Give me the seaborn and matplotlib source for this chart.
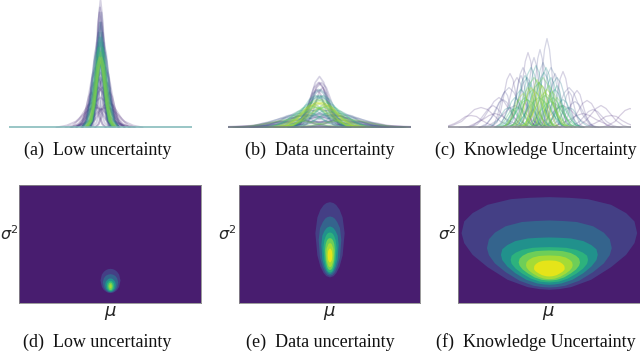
import matplotlib
matplotlib.use("Agg")
import matplotlib.pyplot as plt
import pandas as pd
import seaborn as sns

# ---------- CURVES (top row) ----------
# every curve: centre and spread in pixels, heights at the shared offsets
OFFSETS = [-3, -2.2, -1.5, -1, -0.5, 0, 0.5, 1, 1.5, 2.2, 3]

a_mu = [-1, 1, 0, -0.5, 0.5, -1.5, 1.5, 0, -1, 1, 0, 0, -1, 1, -2, 2, -3, 3, -5, 5, -7, 7, -9, 9, -2, 2, -5, 6, 0, 0,
        -4, 4, -2, 2, -6, 6, 0, -1, 1, -3, 3, 0, -8, 8, -1.5, 1.5, -3, 3, 0, -0.5]
a_spread = [4.5, 4.6, 4.8, 4.3, 4.3, 4.6, 4.6, 4.2, 4, 4, 3.8, 3.2, 3.4, 3.6, 4, 4, 5, 5, 6, 6, 4, 4, 5, 5, 9, 9, 13, 12, 8, 7,
            4.5, 4.5, 5.5, 5.5, 4.5, 4.5, 6, 3, 3, 7, 7, 10, 9, 9, 5.2, 5.2, 4.8, 4.8, 3.6, 3]
a_hue = [.85, .85, .8, .75, .75, .7, .7, .6, .55, .55, .5, .15, .15, .15, .2, .2, .2, .2, .15, .15, .15, .15, .1, .1, .1, .1, .1, .1, .2, .2,
         .25, .25, .3, .3, .2, .2, .25, .2, .2, .15, .15, .1, .1, .1, .65, .65, .45, .45, .35, .15]
a_y = [
    [1, 6, 23, 42, 62, 70, 62, 42, 23, 6, 1], [1, 6, 23, 42, 62, 70, 62, 42, 23, 6, 1],
    [1, 6, 21, 39, 57, 65, 57, 39, 21, 6, 1], [1, 7, 24, 46, 66, 75, 66, 46, 24, 7, 1],
    [1, 7, 24, 46, 66, 75, 66, 46, 24, 7, 1], [1, 7, 26, 49, 71, 80, 71, 49, 26, 7, 1],
    [1, 7, 26, 49, 71, 80, 71, 49, 26, 7, 1], [1, 8, 28, 52, 75, 85, 75, 52, 28, 8, 1],
    [1, 8, 29, 55, 79, 90, 79, 55, 29, 8, 1], [1, 8, 29, 55, 79, 90, 79, 55, 29, 8, 1],
    [1, 8, 31, 58, 84, 95, 84, 58, 31, 8, 1], [1, 11, 41, 77, 112, 127, 112, 77, 41, 11, 1],
    [1, 10, 37, 70, 101, 115, 101, 70, 37, 10, 1], [1, 9, 34, 64, 93, 105, 93, 64, 34, 9, 1],
    [1, 8, 31, 58, 84, 95, 84, 58, 31, 8, 1], [1, 8, 31, 58, 84, 95, 84, 58, 31, 8, 1],
    [1, 8, 28, 52, 75, 85, 75, 52, 28, 8, 1], [1, 8, 28, 52, 75, 85, 75, 52, 28, 8, 1],
    [1, 5, 20, 36, 53, 60, 53, 36, 20, 5, 1], [1, 5, 20, 36, 53, 60, 53, 36, 20, 5, 1],
    [0, 4, 15, 27, 40, 45, 40, 27, 15, 4, 0], [0, 4, 15, 27, 40, 45, 40, 27, 15, 4, 0],
    [0, 3, 11, 21, 31, 35, 31, 21, 11, 3, 0], [0, 3, 11, 21, 31, 35, 31, 21, 11, 3, 0],
    [0, 4, 13, 24, 35, 40, 35, 24, 13, 4, 0], [0, 4, 13, 24, 35, 40, 35, 24, 13, 4, 0],
    [0, 2, 6, 12, 18, 20, 18, 12, 6, 2, 0], [0, 2, 6, 12, 18, 20, 18, 12, 6, 2, 0],
    [1, 5, 18, 33, 49, 55, 49, 33, 18, 5, 1], [1, 4, 16, 30, 44, 50, 44, 30, 16, 4, 1],
    [1, 7, 24, 46, 66, 75, 66, 46, 24, 7, 1], [1, 7, 24, 46, 66, 75, 66, 46, 24, 7, 1],
    [1, 6, 23, 42, 62, 70, 62, 42, 23, 6, 1], [1, 6, 23, 42, 62, 70, 62, 42, 23, 6, 1],
    [1, 5, 18, 33, 49, 55, 49, 33, 18, 5, 1], [1, 5, 18, 33, 49, 55, 49, 33, 18, 5, 1],
    [1, 6, 21, 39, 57, 65, 57, 39, 21, 6, 1], [1, 9, 34, 64, 93, 105, 93, 64, 34, 9, 1],
    [1, 10, 37, 70, 101, 115, 101, 70, 37, 10, 1], [1, 4, 16, 30, 44, 50, 44, 30, 16, 4, 1],
    [1, 4, 16, 30, 44, 50, 44, 30, 16, 4, 1], [0, 3, 10, 18, 26, 30, 26, 18, 10, 3, 0],
    [0, 2, 8, 15, 22, 25, 22, 15, 8, 2, 0], [0, 2, 8, 15, 22, 25, 22, 15, 8, 2, 0],
    [1, 6, 22, 41, 60, 68, 60, 41, 22, 6, 1], [1, 6, 22, 41, 60, 68, 60, 41, 22, 6, 1],
    [1, 7, 26, 49, 71, 80, 71, 49, 26, 7, 1], [1, 7, 26, 49, 71, 80, 71, 49, 26, 7, 1],
    [1, 9, 34, 64, 93, 105, 93, 64, 34, 9, 1], [1, 11, 39, 73, 106, 120, 106, 73, 39, 11, 1],
]

b_mu = [0, -3, 3, -6, 6, -2, 2, -9, 9, 0, -4, 4, -1, 1, 0, -1, 2, -12, 12, -20, 20, -30, 30, -5, 5, 0, -40, 42,
        -4, 4, -14, 14, -8, 8, -2, 2, -18, 18, -26, 26, 0, 3, -3, 0, -10, 10, -20, 20, 0, -28, 28]
b_spread = [15, 14, 14, 15, 15, 13, 13, 16, 16, 12, 12, 12, 10, 10, 8.5, 9, 9.5, 19, 19, 22, 22, 18, 18, 27, 27, 28, 17, 17,
            16, 16, 15, 15, 12, 12, 10, 10, 12, 12, 14, 14, 7.5, 7, 7.5, 22, 24, 24, 30, 30, 34, 20, 20]
b_hue = [.9, .9, .9, .85, .85, .8, .8, .7, .7, .6, .55, .55, .35, .35, .15, .15, .15, .4, .4, .3, .3, .2, .2, .2, .2, .15, .1, .1,
         .75, .75, .6, .6, .5, .5, .3, .3, .35, .35, .15, .15, .1, .1, .1, .2, .15, .15, .12, .12, .1, .8, .8]
b_y = [
    [0, 2, 8, 15, 22, 25, 22, 15, 8, 2, 0], [0, 2, 8, 15, 22, 25, 22, 15, 8, 2, 0],
    [0, 2, 8, 15, 22, 25, 22, 15, 8, 2, 0], [0, 2, 7, 13, 19, 22, 19, 13, 7, 2, 0],
    [0, 2, 7, 13, 19, 22, 19, 13, 7, 2, 0], [0, 2, 9, 17, 25, 28, 25, 17, 9, 2, 0],
    [0, 2, 9, 17, 25, 28, 25, 17, 9, 2, 0], [0, 2, 7, 13, 19, 22, 19, 13, 7, 2, 0],
    [0, 2, 7, 13, 19, 22, 19, 13, 7, 2, 0], [0, 3, 10, 19, 28, 32, 28, 19, 10, 3, 0],
    [0, 3, 10, 19, 28, 32, 28, 19, 10, 3, 0], [0, 3, 10, 19, 28, 32, 28, 19, 10, 3, 0],
    [0, 3, 12, 23, 34, 38, 34, 23, 12, 3, 0], [0, 3, 12, 23, 34, 38, 34, 23, 12, 3, 0],
    [1, 5, 17, 31, 45, 51, 45, 31, 17, 5, 1], [0, 4, 15, 27, 40, 45, 40, 27, 15, 4, 0],
    [0, 4, 15, 27, 40, 45, 40, 27, 15, 4, 0], [0, 2, 6, 11, 16, 18, 16, 11, 6, 2, 0],
    [0, 2, 6, 11, 16, 18, 16, 11, 6, 2, 0], [0, 1, 5, 8, 12, 14, 12, 8, 5, 1, 0],
    [0, 1, 5, 8, 12, 14, 12, 8, 5, 1, 0], [0, 1, 3, 6, 9, 10, 9, 6, 3, 1, 0],
    [0, 1, 3, 6, 9, 10, 9, 6, 3, 1, 0], [0, 1, 5, 8, 12, 14, 12, 8, 5, 1, 0],
    [0, 1, 5, 8, 12, 14, 12, 8, 5, 1, 0], [0, 1, 3, 6, 9, 10, 9, 6, 3, 1, 0],
    [0, 1, 2, 4, 5, 6, 5, 4, 2, 1, 0], [0, 1, 2, 4, 5, 6, 5, 4, 2, 1, 0],
    [0, 2, 6, 12, 18, 20, 18, 12, 6, 2, 0], [0, 2, 6, 12, 18, 20, 18, 12, 6, 2, 0],
    [0, 1, 5, 10, 14, 16, 14, 10, 5, 1, 0], [0, 1, 5, 10, 14, 16, 14, 10, 5, 1, 0],
    [0, 2, 8, 15, 22, 25, 22, 15, 8, 2, 0], [0, 2, 8, 15, 22, 25, 22, 15, 8, 2, 0],
    [0, 3, 10, 19, 28, 32, 28, 19, 10, 3, 0], [0, 3, 10, 19, 28, 32, 28, 19, 10, 3, 0],
    [0, 1, 4, 7, 11, 12, 11, 7, 4, 1, 0], [0, 1, 4, 7, 11, 12, 11, 7, 4, 1, 0],
    [0, 1, 4, 7, 11, 12, 11, 7, 4, 1, 0], [0, 1, 4, 7, 11, 12, 11, 7, 4, 1, 0],
    [0, 4, 15, 27, 40, 45, 40, 27, 15, 4, 0], [0, 4, 13, 24, 35, 40, 35, 24, 13, 4, 0],
    [0, 3, 12, 23, 34, 38, 34, 23, 12, 3, 0], [0, 2, 6, 11, 16, 18, 16, 11, 6, 2, 0],
    [0, 1, 4, 7, 11, 12, 11, 7, 4, 1, 0], [0, 1, 4, 7, 11, 12, 11, 7, 4, 1, 0],
    [0, 1, 2, 4, 6, 7, 6, 4, 2, 1, 0], [0, 1, 2, 4, 6, 7, 6, 4, 2, 1, 0],
    [0, 1, 2, 4, 5, 6, 5, 4, 2, 1, 0], [0, 1, 3, 5, 7, 8, 7, 5, 3, 1, 0],
    [0, 1, 3, 5, 7, 8, 7, 5, 3, 1, 0],
]

c_mu = [8, -11, 1, -29, 24, 38, 48, -22, -16, -5, 4, 12, -40, -58, 62, 91, -30, 30, 18, -12,
        -8, 5, -18, 16, 0, -5, 4, -11, 10, 0, -3, 6, -14, 14, -22, 22, -24, 24, -44, 44, -14, 14,
        -20, -16, -8, -2, 3, 8, 13, 18, 24, -26, -6, 6, 0, -12, 12, -3, 5,
        -24, 24, -14, 12, -3, 7, -30, 30, 18, -10,
        -36, 36, -46, 54, -68, 72, -18, 16, 30, -34, 0, -6, 6, -10, 10]
c_spread = [5, 5.5, 4.5, 6, 5.5, 6, 9, 7, 6, 5, 6, 7, 10, 13, 10, 10, 10, 9, 8, 8,
            7, 7, 7, 7, 9, 8, 8, 6, 6, 6, 7, 9, 8, 8, 7, 7, 12, 12, 12, 13, 4, 4,
            6, 7, 6, 5, 6, 7, 6, 6, 6, 6, 9, 10, 11, 10, 11, 4, 4,
            7, 7, 6, 6, 6, 6, 8, 8, 5, 4.5,
            8, 8, 9, 9, 11, 11, 5, 5, 5, 5, 3, 3.5, 3.5, 3.5, 3.5]
c_hue = [.2, .15, .2, .15, .15, .15, .12, .15, .2, .2, .3, .3, .15, .12, .12, .1, .2, .2, .4, .4,
         .5, .5, .5, .55, .6, .75, .75, .8, .8, .85, .85, .85, .7, .7, .6, .6, .15, .15, .1, .1, .15, .15,
         .8, .85, .9, .85, .9, .85, .8, .8, .7, .7, .75, .75, .7, .7, .7, .8, .8,
         .5, .5, .5, .5, .5, .5, .45, .45, .55, .5,
         .2, .2, .15, .15, .1, .1, .2, .2, .2, .2, .1, .1, .1, .15, .15]
c_y = [
    [1, 8, 29, 54, 78, 89, 78, 54, 29, 8, 1], [1, 7, 24, 46, 66, 75, 66, 46, 24, 7, 1],
    [1, 7, 25, 47, 69, 78, 69, 47, 25, 7, 1], [1, 5, 18, 33, 48, 54, 48, 33, 18, 5, 1],
    [1, 5, 18, 34, 49, 56, 49, 34, 18, 5, 1], [0, 3, 12, 22, 33, 37, 33, 22, 12, 3, 0],
    [0, 2, 9, 16, 24, 27, 24, 16, 9, 2, 0], [1, 4, 16, 30, 44, 50, 44, 30, 16, 4, 1],
    [1, 5, 20, 36, 53, 60, 53, 36, 20, 5, 1], [1, 6, 23, 42, 62, 70, 62, 42, 23, 6, 1],
    [1, 6, 21, 39, 57, 65, 57, 39, 21, 6, 1], [1, 5, 20, 36, 53, 60, 53, 36, 20, 5, 1],
    [0, 3, 10, 18, 26, 30, 26, 18, 10, 3, 0], [0, 2, 6, 12, 18, 20, 18, 12, 6, 2, 0],
    [0, 2, 7, 13, 19, 22, 19, 13, 7, 2, 0], [0, 2, 6, 12, 17, 19, 17, 12, 6, 2, 0],
    [0, 4, 13, 24, 35, 40, 35, 24, 13, 4, 0], [0, 4, 13, 24, 35, 40, 35, 24, 13, 4, 0],
    [1, 4, 16, 30, 44, 50, 44, 30, 16, 4, 1], [1, 4, 16, 30, 44, 50, 44, 30, 16, 4, 1],
    [1, 5, 20, 36, 53, 60, 53, 36, 20, 5, 1], [1, 5, 18, 33, 49, 55, 49, 33, 18, 5, 1],
    [0, 3, 12, 23, 34, 38, 34, 23, 12, 3, 0], [0, 3, 12, 23, 34, 38, 34, 23, 12, 3, 0],
    [0, 4, 15, 27, 40, 45, 40, 27, 15, 4, 0], [1, 4, 16, 30, 44, 50, 44, 30, 16, 4, 1],
    [1, 4, 16, 30, 44, 50, 44, 30, 16, 4, 1], [0, 4, 13, 24, 35, 40, 35, 24, 13, 4, 0],
    [0, 4, 14, 25, 37, 42, 37, 25, 14, 4, 0], [0, 4, 15, 27, 40, 45, 40, 27, 15, 4, 0],
    [0, 3, 11, 21, 31, 35, 31, 21, 11, 3, 0], [0, 3, 11, 21, 31, 35, 31, 21, 11, 3, 0],
    [0, 3, 10, 18, 26, 30, 26, 18, 10, 3, 0], [0, 3, 10, 18, 26, 30, 26, 18, 10, 3, 0],
    [0, 2, 6, 12, 18, 20, 18, 12, 6, 2, 0], [0, 2, 7, 13, 19, 22, 19, 13, 7, 2, 0],
    [0, 2, 7, 13, 19, 22, 19, 13, 7, 2, 0], [0, 2, 7, 13, 19, 22, 19, 13, 7, 2, 0],
    [0, 1, 5, 8, 12, 14, 12, 8, 5, 1, 0], [0, 1, 5, 8, 12, 14, 12, 8, 5, 1, 0],
    [0, 2, 8, 15, 22, 25, 22, 15, 8, 2, 0], [0, 2, 8, 15, 22, 25, 22, 15, 8, 2, 0],
    [0, 2, 9, 17, 25, 28, 25, 17, 9, 2, 0], [0, 3, 11, 21, 30, 34, 30, 21, 11, 3, 0],
    [0, 4, 13, 24, 35, 40, 35, 24, 13, 4, 0], [1, 4, 16, 29, 42, 48, 42, 29, 16, 4, 1],
    [0, 4, 14, 25, 37, 42, 37, 25, 14, 4, 0], [0, 3, 12, 23, 34, 38, 34, 23, 12, 3, 0],
    [0, 3, 12, 22, 32, 36, 32, 22, 12, 3, 0], [0, 3, 10, 18, 26, 30, 26, 18, 10, 3, 0],
    [0, 2, 7, 13, 19, 22, 19, 13, 7, 2, 0], [0, 2, 6, 11, 16, 18, 16, 11, 6, 2, 0],
    [0, 3, 12, 23, 34, 38, 34, 23, 12, 3, 0], [0, 3, 10, 19, 28, 32, 28, 19, 10, 3, 0],
    [0, 3, 10, 18, 26, 30, 26, 18, 10, 3, 0], [0, 2, 9, 17, 25, 28, 25, 17, 9, 2, 0],
    [0, 2, 8, 16, 23, 26, 23, 16, 8, 2, 0], [0, 3, 10, 18, 26, 30, 26, 18, 10, 3, 0],
    [0, 2, 8, 16, 23, 26, 23, 16, 8, 2, 0], [0, 3, 10, 18, 26, 30, 26, 18, 10, 3, 0],
    [0, 2, 9, 17, 25, 28, 25, 17, 9, 2, 0], [1, 5, 17, 32, 46, 52, 46, 32, 17, 5, 1],
    [1, 4, 16, 30, 44, 50, 44, 30, 16, 4, 1], [1, 6, 20, 38, 55, 62, 55, 38, 20, 6, 1],
    [1, 5, 20, 36, 53, 60, 53, 36, 20, 5, 1], [0, 2, 6, 12, 18, 20, 18, 12, 6, 2, 0],
    [0, 2, 6, 12, 18, 20, 18, 12, 6, 2, 0], [0, 4, 14, 25, 37, 42, 37, 25, 14, 4, 0],
    [0, 4, 15, 27, 40, 45, 40, 27, 15, 4, 0], [0, 2, 9, 17, 25, 28, 25, 17, 9, 2, 0],
    [0, 2, 8, 16, 23, 26, 23, 16, 8, 2, 0], [0, 2, 7, 13, 19, 22, 19, 13, 7, 2, 0],
    [0, 2, 6, 11, 16, 18, 16, 11, 6, 2, 0], [0, 1, 4, 7, 11, 12, 11, 7, 4, 1, 0],
    [0, 1, 4, 7, 11, 12, 11, 7, 4, 1, 0], [1, 5, 17, 32, 46, 52, 46, 32, 17, 5, 1],
    [1, 5, 18, 33, 48, 54, 48, 33, 18, 5, 1], [0, 3, 12, 22, 32, 36, 32, 22, 12, 3, 0],
    [0, 3, 12, 22, 32, 36, 32, 22, 12, 3, 0], [0, 1, 5, 10, 14, 16, 14, 10, 5, 1, 0],
    [0, 2, 6, 11, 16, 18, 16, 11, 6, 2, 0], [0, 2, 6, 11, 16, 18, 16, 11, 6, 2, 0],
    [0, 2, 7, 13, 19, 22, 19, 13, 7, 2, 0], [0, 2, 7, 13, 19, 22, 19, 13, 7, 2, 0],
]

# ---------- CONTOUR BANDS (bottom row) ----------
# every band: sigma levels and half width of mu at that level, outermost first
d_sigma = [
    [105, 104, 101.5, 96, 87.5, 70, 51, 41.5, 36, 33, 32],
    [89, 88, 86.5, 83, 76.5, 64, 49, 41.5, 37, 35, 34],
    [76, 75.5, 74, 71, 66.5, 57, 46.5, 41, 38, 36.5, 36],
    [69, 68.5, 67.5, 65, 61.5, 54, 46, 42, 39.5, 38.5, 38],
    [64, 63.5, 63, 61, 58, 53, 47, 44, 42, 41.5, 41],
    [59, 58.5, 58, 57.5, 56, 53, 49.5, 48, 47, 46.5, 46],
]
d_half = [
    [0, 7, 13, 20, 26, 30, 26, 20, 13, 7, 0],
    [0, 5, 10, 15, 20, 23, 20, 15, 10, 5, 0],
    [0, 4, 7, 10, 14, 16, 14, 10, 7, 4, 0],
    [0, 3, 5, 7, 10, 11, 10, 7, 5, 3, 0],
    [0, 2, 3, 5, 6, 7, 6, 5, 3, 2, 0],
    [0, 1, 1.5, 2.5, 3, 3.5, 3, 2.5, 1.5, 1, 0],
]
e_sigma = [
    [305, 302, 296, 282, 258.5, 212, 145.5, 112, 92, 83, 79],
    [262, 260, 255, 244.5, 227, 192, 138, 111, 95, 87, 84],
    [232, 230, 226.5, 218, 204.5, 177, 133, 111, 98, 92, 89],
    [214, 212.6, 209.3, 202, 190.5, 167, 130.5, 112, 101, 96, 94],
    [197, 196, 193.3, 188, 178.5, 160, 130.5, 116, 107, 103, 101],
    [182, 181, 179, 174, 166, 150, 130, 120, 114, 111, 110],
    [166, 165, 163, 160, 155.5, 145, 134.5, 130, 127, 125, 124],
]
e_half = [
    [0, 11, 19, 29, 38, 44, 38, 29, 19, 11, 0],
    [0, 8, 15, 22, 30, 34, 30, 22, 15, 8, 0],
    [0, 6, 11, 17, 23, 26, 23, 17, 11, 6, 0],
    [0, 5, 9, 13, 17, 20, 17, 13, 9, 5, 0],
    [0, 4, 7, 10, 13, 15, 13, 10, 7, 4, 0],
    [0, 3, 5, 7, 10, 11, 10, 7, 5, 3, 0],
    [0, 2, 3, 5, 6, 7, 6, 5, 3, 2, 0],
]
f_sigma = [
    [320, 318, 314, 297, 272, 247, 212, 182, 147, 110, 72, 50, 44, 42],
    [250, 248.3, 245.4, 232.6, 213.5, 193.6, 167, 146, 121, 95, 69, 54, 50, 49],
    [199, 198, 196.1, 188.1, 176.1, 163.6, 147, 131, 112, 92, 72, 61, 58, 57],
    [170, 169.2, 167.9, 162, 153.3, 144.2, 132, 120, 105.5, 90.5, 75.6, 66.7, 65, 64],
    [160, 159.3, 158, 152.4, 144.2, 135.5, 124, 114.3, 103, 91, 79, 72, 70.5, 70],
    [145, 144.4, 143.4, 138.9, 132.2, 125.3, 116, 108.4, 99.6, 90.4, 81.1, 75.7, 74.4, 74],
    [130, 129.5, 128.7, 125, 119.4, 113.7, 106, 101.7, 96.6, 91.4, 86, 83, 82.2, 82],
]
f_half = [
    [0, 60, 115, 185, 230, 255, 263, 255, 230, 185, 125, 65, 30, 0],
    [0, 43, 82, 131, 163, 181, 187, 181, 163, 131, 89, 47, 21, 0],
    [0, 33, 64, 102, 126, 141, 145, 141, 126, 102, 69, 36, 16, 0],
    [0, 27, 51, 81, 101, 113, 116, 113, 101, 81, 55, 29, 13, 0],
    [0, 21, 40, 64, 80, 89, 92, 89, 80, 64, 44, 23, 10, 0],
    [0, 16, 31, 49, 61, 68, 70, 68, 61, 49, 33, 17, 8, 0],
    [0, 11, 20, 32, 40, 45, 46, 45, 40, 32, 22, 11, 5, 0],
]

BAND_COLORS = ["#443f85", "#34648d", "#21918c", "#2db27d", "#6ece58", "#a5db36", "#e5e419"]
BG_COLOR = "#481d6f"

CAPTIONS = ["(a)  Low uncertainty", "(b)  Data uncertainty", "(c)  Knowledge Uncertainty",
            "(d)  Low uncertainty", "(e)  Data uncertainty", "(f)  Knowledge Uncertainty"]

W, H = 640, 352


def px_axes(fig, left, top, right, bottom):
    return fig.add_axes([left / W, 1 - bottom / H, (right - left) / W, (bottom - top) / H])


# ---------- PANELS ----------
def curve_panel(fig, box, mu, spread, hue, ys, base_color, lw):
    ax = px_axes(fig, *box)
    rows = []
    for i in range(len(mu)):
        for off, y in zip(OFFSETS, ys[i]):
            rows.append({"x": mu[i] + off * spread[i], "y": y, "curve": i, "hue": hue[i]})
    df = pd.DataFrame(rows)
    cmap = sns.color_palette("viridis", as_cmap=True)
    # low values first so the yellow lines end up on top
    for h in sorted(set(hue)):
        alpha = 0.22 if h < 0.35 else (0.28 if h < 0.6 else 0.35)
        sns.lineplot(data=df[df["hue"] == h], x="x", y="y", units="curve", estimator=None,
                     color=cmap(h), alpha=alpha, linewidth=lw, legend=False, ax=ax)
    ax.axhline(0, color=base_color, linewidth=1.1)
    ax.set_xlim(-91.5, 91.5)
    ax.set_ylim(-1, 127.5)
    ax.axis("off")


def band_panel(fig, box, sigma, half):
    ax = px_axes(fig, *box)
    ax.set_facecolor(BG_COLOR)
    for i in range(len(sigma)):
        left = [-v for v in half[i]]
        ax.fill_betweenx(sigma[i], left, half[i], color=BAND_COLORS[i], linewidth=0)
    ax.set_xlim(-273, 273)
    ax.set_ylim(0, 354)
    ax.set_xticks([])
    ax.set_yticks([])
    for s in ax.spines.values():
        s.set_color("#8a8a8a")
        s.set_linewidth(0.6)
    return ax


# ---------- MAIN ----------
sns.set_style("white")
fig = plt.figure(figsize=(W / 100, H / 100), dpi=100)

curve_panel(fig, (9, 0, 192, 128.5), a_mu, a_spread, a_hue, a_y, "#7db6b6", 1.4)
curve_panel(fig, (228, 0, 411, 128.5), b_mu, b_spread, b_hue, b_y, "#6f7a84", 1.2)
curve_panel(fig, (447.5, 0, 630.5, 128.5), c_mu, c_spread, c_hue, c_y, "#8a8c96", 0.9)

band_panel(fig, (19, 185.3, 201, 303.3), d_sigma, d_half)
band_panel(fig, (238.7, 185.3, 420.3, 303.3), e_sigma, e_half)
band_panel(fig, (457.7, 185.3, 640, 303.3), f_sigma, f_half)

cap_x = [98, 319.5, 536, 97, 320, 536]
cap_y = [150, 150, 150, 342, 342, 342]
for cap, x, y in zip(CAPTIONS, cap_x, cap_y):
    fig.text(x / W, 1 - y / H, cap, family="Liberation Serif", fontsize=13,
             ha="center", va="center", color="#111111")

for x in [9, 227.7, 447.5]:
    fig.text(x / W, 1 - 234 / H, r"$\sigma^2$", fontsize=11.5, ha="center", va="center")
for x in [110, 329.5, 548.5]:
    fig.text(x / W, 1 - 313 / H, r"$\mu$", fontsize=13, ha="center", va="center")

fig.savefig("out.png", dpi=100)
